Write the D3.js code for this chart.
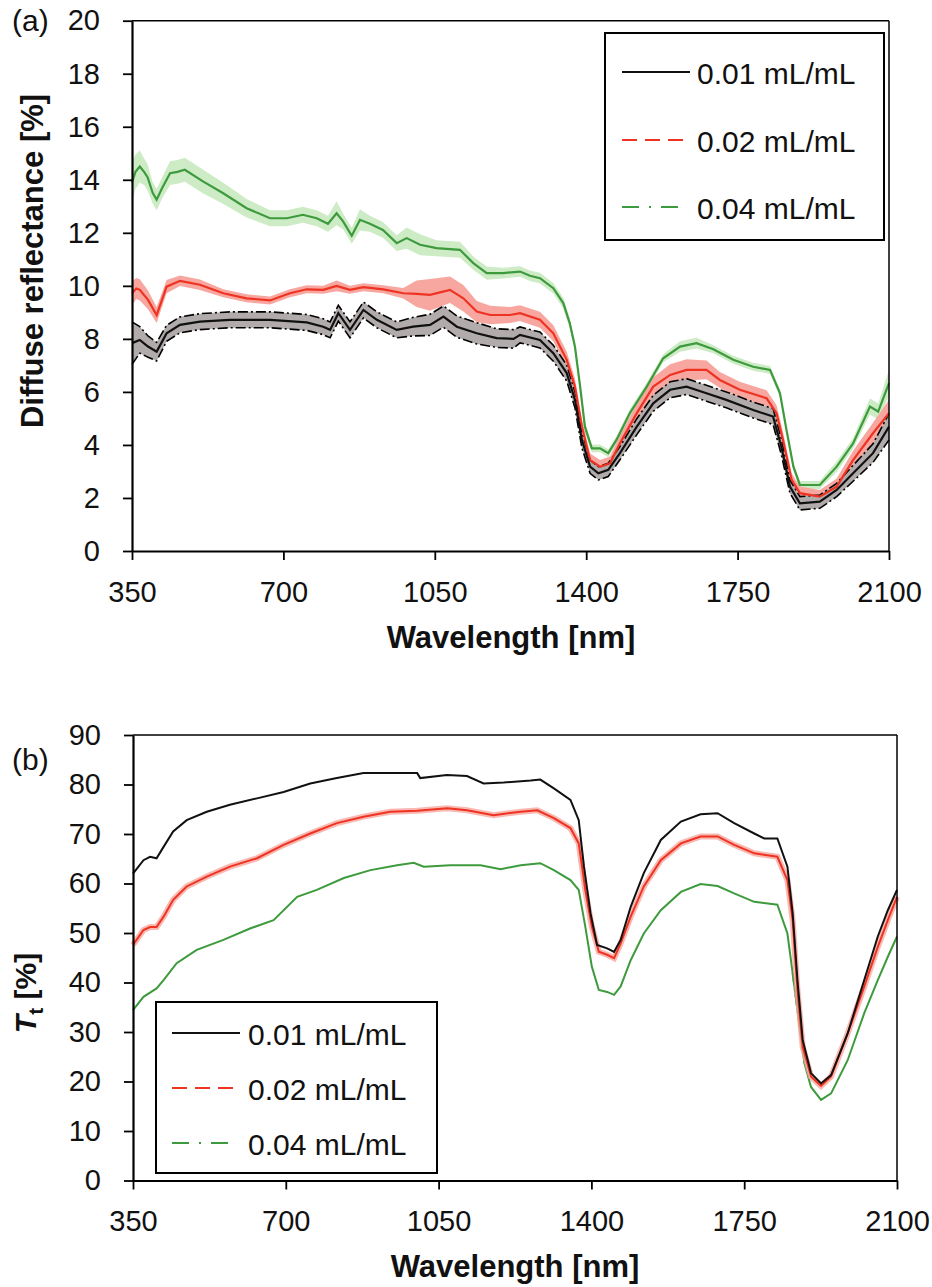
<!DOCTYPE html>
<html>
<head>
<meta charset="utf-8">
<script src="https://cdn.jsdelivr.net/npm/d3@7"></script>
<style>
  html, body { margin: 0; padding: 0; background: #fff; }
  svg { display: block; font-family: "Liberation Sans", Arial, sans-serif; }
</style>
</head>
<body>
<svg id="chart" width="932" height="1287"></svg>
<script>
// ---------------- DATA ----------------
const xTicks = [350, 700, 1050, 1400, 1750, 2100];
const yTicksA = [0, 2, 4, 6, 8, 10, 12, 14, 16, 18, 20];
const yTicksB = [0, 10, 20, 30, 40, 50, 60, 70, 80, 90];
const seriesNames = ["0.01 mL/mL", "0.02 mL/mL", "0.04 mL/mL"];

// Panel (a): diffuse reflectance [%], mean and standard deviation
const aGreenWl  = [350,358,368,378,386,398,407,420,438,455,472,514,560,615,669,708,745,777,803,823,838,858,877,900,930,962,985,1016,1054,1108,1139,1170,1208,1247,1270,1293,1324,1347,1362,1374,1386,1397,1413,1432,1451,1470,1501,1540,1578,1617,1655,1694,1740,1786,1825,1848,1863,1879,1894,1940,1979,2017,2056,2075,2100];
const aGreenVal = [13.9,14.3,14.5,14.3,14.1,13.5,13.25,13.7,14.25,14.3,14.38,13.94,13.5,12.93,12.55,12.55,12.68,12.55,12.34,12.74,12.43,11.89,12.49,12.34,12.11,11.61,11.8,11.55,11.42,11.36,10.86,10.48,10.48,10.54,10.38,10.29,9.91,9.35,8.59,7.71,6.2,4.69,3.87,3.87,3.69,4.19,5.2,6.2,7.27,7.71,7.84,7.61,7.21,6.95,6.83,5.95,4.57,3.18,2.49,2.49,3.18,4.06,5.45,5.26,6.33];
const aGreenSd  = [0.8,0.65,0.6,0.5,0.5,0.4,0.4,0.4,0.45,0.45,0.45,0.45,0.4,0.35,0.3,0.3,0.3,0.3,0.3,0.45,0.3,0.3,0.4,0.3,0.3,0.3,0.4,0.4,0.3,0.3,0.25,0.25,0.2,0.2,0.2,0.2,0.2,0.2,0.2,0.2,0.2,0.2,0.15,0.15,0.15,0.15,0.15,0.15,0.15,0.2,0.2,0.15,0.15,0.15,0.15,0.15,0.15,0.15,0.15,0.15,0.2,0.2,0.3,0.3,0.5];

const aRedWl  = [350,360,368,387,407,430,461,507,561,615,669,715,754,792,823,854,885,931,977,1008,1039,1085,1116,1147,1178,1224,1247,1293,1324,1355,1374,1390,1409,1432,1455,1478,1517,1555,1594,1632,1678,1709,1755,1817,1840,1855,1875,1894,1940,1979,2017,2063,2100];
const aRedVal = [9.72,9.9,9.85,9.47,8.9,9.97,10.19,10.04,9.72,9.53,9.45,9.72,9.87,9.85,10.0,9.85,9.95,9.87,9.72,9.7,9.66,9.85,9.53,9.03,8.9,8.9,8.97,8.72,8.21,7.21,6.2,4.69,3.43,3.18,3.31,4.06,5.2,6.2,6.64,6.83,6.83,6.45,6.08,5.76,5.2,4.19,2.68,2.18,2.05,2.43,3.43,4.44,5.2];
const aRedSd  = [0.45,0.4,0.4,0.35,0.3,0.25,0.2,0.2,0.15,0.15,0.15,0.15,0.15,0.15,0.2,0.15,0.15,0.15,0.2,0.5,0.6,0.5,0.5,0.4,0.35,0.3,0.3,0.3,0.3,0.3,0.3,0.3,0.25,0.25,0.25,0.3,0.35,0.35,0.4,0.4,0.35,0.3,0.3,0.3,0.3,0.3,0.25,0.25,0.25,0.3,0.35,0.4,0.5];

const aBlackWl  = [350,368,387,407,430,461,507,576,669,754,792,808,827,854,885,916,962,1000,1039,1070,1101,1147,1193,1232,1247,1293,1324,1355,1374,1390,1409,1428,1451,1478,1517,1555,1594,1632,1678,1724,1786,1832,1851,1871,1894,1940,1979,2017,2063,2100];
const aBlackVal = [7.84,7.96,7.71,7.52,8.21,8.53,8.65,8.72,8.72,8.62,8.46,8.34,8.97,8.34,9.09,8.72,8.34,8.46,8.53,8.84,8.46,8.21,8.03,8.0,8.15,7.96,7.46,6.71,5.7,4.19,3.18,2.93,3.06,3.69,4.69,5.57,6.08,6.2,5.95,5.7,5.32,5.07,3.94,2.43,1.8,1.86,2.3,2.93,3.69,4.69];
const aBlackSd  = [0.8,0.5,0.4,0.35,0.3,0.3,0.3,0.3,0.3,0.3,0.3,0.3,0.3,0.3,0.3,0.3,0.3,0.35,0.4,0.4,0.4,0.4,0.35,0.35,0.3,0.3,0.3,0.3,0.3,0.3,0.25,0.25,0.25,0.25,0.3,0.3,0.3,0.3,0.3,0.3,0.3,0.3,0.3,0.25,0.25,0.25,0.25,0.3,0.35,0.5];

// Panel (b): total transmittance Tt [%]
const bBlackWl  = [350,374,389,404,420,442,473,519,572,634,695,756,817,878,939,1001,1008,1069,1115,1153,1199,1261,1283,1314,1352,1371,1383,1398,1413,1436,1452,1467,1490,1520,1559,1605,1650,1689,1727,1773,1796,1826,1849,1861,1872,1884,1903,1926,1949,1987,2025,2056,2079,2100];
const bBlackVal = [62.0,64.7,65.4,65.1,67.4,70.5,72.8,74.5,75.9,77.2,78.5,80.2,81.3,82.3,82.3,82.3,81.3,81.9,81.7,80.2,80.4,80.8,81.0,79.2,76.9,72.8,63.4,54.0,47.6,46.9,46.2,48.6,55.3,62.1,68.8,72.5,74.0,74.2,72.2,70.1,69.1,69.1,63.4,54.0,40.5,28.4,21.7,19.6,21.3,29.7,40.5,49.3,54.6,58.7];

const bRedWl  = [350,374,389,404,420,442,473,519,572,634,695,756,817,878,939,1001,1070,1115,1176,1238,1276,1314,1352,1371,1386,1401,1417,1436,1452,1467,1490,1520,1559,1605,1650,1689,1727,1773,1826,1849,1861,1872,1884,1903,1926,1949,1987,2025,2056,2079,2100];
const bRedVal = [47.6,50.6,51.2,51.2,53.3,56.7,59.4,61.4,63.4,65.1,67.8,70.1,72.2,73.5,74.5,74.7,75.2,74.8,73.8,74.5,74.8,73.2,71.2,68.1,58.7,51.3,46.2,45.6,44.9,47.9,53.3,59.4,64.7,68.1,69.5,69.5,67.8,66.1,65.4,60.7,52.6,38.5,27.0,21.0,19.1,21.0,29.7,39.2,47.2,52.6,57.3];

const bGreenWl  = [350,374,404,420,450,496,557,618,672,726,771,833,894,955,993,1016,1077,1146,1192,1238,1283,1314,1352,1371,1386,1401,1417,1436,1452,1467,1490,1520,1559,1605,1650,1689,1727,1773,1826,1849,1861,1888,1903,1926,1949,1987,2025,2056,2079,2100];
const bGreenVal = [34.4,37.1,38.8,40.5,43.9,46.6,48.6,50.9,52.6,57.3,58.7,61.1,62.7,63.7,64.2,63.4,63.7,63.7,62.9,63.7,64.1,62.7,60.7,58.7,51.3,43.2,38.5,38.1,37.5,39.2,44.5,49.9,54.6,58.3,59.9,59.5,58.0,56.3,55.7,49.9,41.9,23.7,18.9,16.3,17.6,24.3,33.8,40.5,45.2,49.3];

// ---------------- STYLE ----------------
const C = {
  black: "#111111", blackBand: "#b2abab",
  red: "#ee3322", redBand: "#f7a79f",
  green: "#3d9a3d", greenBand: "#cdecc5"
};

const svg = d3.select("#chart");
svg.append("rect").attr("width", 932).attr("height", 1287).attr("fill", "#fff");

function zip(wl, val, sd) {
  return wl.map((w, i) => ({ w: w, v: val[i], s: sd ? sd[i] : 0 }));
}

function drawAxes(g, x, y, yTicks) {
  const x0 = x.range()[0], x1 = x.range()[1];
  const yb = y.range()[0], yt = y.range()[1];
  g.append("line").attr("x1", x0).attr("x2", x1).attr("y1", yt).attr("y2", yt)
    .attr("stroke", "#000").attr("stroke-width", 1.5);
  g.append("line").attr("x1", x1).attr("x2", x1).attr("y1", yt).attr("y2", yb)
    .attr("stroke", "#000").attr("stroke-width", 1.5);

  const ax = g.append("g").attr("transform", `translate(0,${yb})`)
    .call(d3.axisBottom(x).tickValues(xTicks).tickSize(9).tickSizeOuter(0).tickPadding(21).tickFormat(d3.format("d")));
  const ay = g.append("g").attr("transform", `translate(${x0},0)`)
    .call(d3.axisLeft(y).tickValues(yTicks).tickSize(9).tickSizeOuter(0).tickPadding(23).tickFormat(d3.format("d")));
  [ax, ay].forEach(a => {
    a.select(".domain").attr("stroke", "#000").attr("stroke-width", 2.2);
    a.selectAll(".tick line").attr("stroke", "#000").attr("stroke-width", 1.8);
    a.selectAll(".tick text").attr("fill", "#111").style("font-size", "29px")
      .style("font-family", '"Liberation Sans", Arial, sans-serif');
  });
}

function legend(g, x0, y0, w, h, rows, lineX0, lineX1, textX) {
  g.append("rect").attr("x", x0).attr("y", y0).attr("width", w).attr("height", h)
    .attr("fill", "#fff").attr("stroke", "#000").attr("stroke-width", 2);
  const styles = [
    { c: C.black, dash: null, x1: lineX1 },
    { c: C.red, dash: "15,8", x1: lineX1 },
    { c: C.green, dash: "17,10,2,10", x1: lineX1 - 8 }
  ];
  rows.forEach((yy, i) => {
    g.append("line").attr("x1", lineX0).attr("x2", styles[i].x1)
      .attr("y1", yy - 12).attr("y2", yy - 12)
      .attr("stroke", styles[i].c).attr("stroke-width", 2)
      .attr("stroke-dasharray", styles[i].dash);
    g.append("text").attr("x", textX).attr("y", yy).text(seriesNames[i])
      .style("font-size", "30px").attr("fill", "#111");
  });
}

// ---------------- PANEL (a) ----------------
(function () {
  const g = svg.append("g");
  const x = d3.scaleLinear().domain([350, 2100]).range([132, 889]);
  const y = d3.scaleLinear().domain([0, 20]).range([551, 20.7]);
  const area = d3.area().x(d => x(d.w)).y0(d => y(d.v - d.s)).y1(d => y(d.v + d.s));
  const line = d3.line().x(d => x(d.w)).y(d => y(d.v));
  const lineHi = d3.line().x(d => x(d.w)).y(d => y(d.v + d.s));
  const lineLo = d3.line().x(d => x(d.w)).y(d => y(d.v - d.s));

  const green = zip(aGreenWl, aGreenVal, aGreenSd);
  const red = zip(aRedWl, aRedVal, aRedSd);
  const black = zip(aBlackWl, aBlackVal, aBlackSd);

  g.append("path").datum(green).attr("d", area).attr("fill", C.greenBand);
  g.append("path").datum(red).attr("d", area).attr("fill", C.redBand);
  g.append("path").datum(black).attr("d", area).attr("fill", C.blackBand);
  [lineHi, lineLo].forEach(l => g.append("path").datum(black).attr("d", l)
    .attr("fill", "none").attr("stroke", "#000").attr("stroke-width", 1.6)
    .attr("stroke-dasharray", "10,3,2,3"));
  g.append("path").datum(green).attr("d", line).attr("fill", "none").attr("stroke", C.green).attr("stroke-width", 2.2);
  g.append("path").datum(red).attr("d", line).attr("fill", "none").attr("stroke", C.red).attr("stroke-width", 2.2);
  g.append("path").datum(black).attr("d", line).attr("fill", "none").attr("stroke", C.black).attr("stroke-width", 2.2);

  drawAxes(g, x, y, yTicksA);

  legend(g, 605, 33, 279, 207, [84, 152, 219], 622, 690, 697);

  g.append("text").attr("x", 12).attr("y", 31).text("(a)").style("font-size", "30px").attr("fill", "#111");
  g.append("text").attr("x", 511).attr("y", 648).attr("text-anchor", "middle")
    .text("Wavelength [nm]").style("font-size", "31px").style("font-weight", "bold").attr("fill", "#111");
  g.append("text").attr("transform", "translate(43,261) rotate(-90)").attr("text-anchor", "middle")
    .text("Diffuse reflectance [%]").style("font-size", "31px").style("font-weight", "bold").attr("fill", "#111");
})();

// ---------------- PANEL (b) ----------------
(function () {
  const g = svg.append("g");
  const x = d3.scaleLinear().domain([350, 2100]).range([133, 897]);
  const y = d3.scaleLinear().domain([0, 90]).range([1180.5, 735]);
  const plain = d3.line().x(d => x(d.w)).y(d => y(d.v));

  const black = zip(bBlackWl, bBlackVal);
  const red = zip(bRedWl, bRedVal);
  const green = zip(bGreenWl, bGreenVal);

  // green: solid except a dash-dot stretch in the steep water band
  const gapLo = 1861, gapHi = 1888;
  const lineDef = d3.line().defined(d => d.w <= gapLo || d.w >= gapHi).x(d => x(d.w)).y(d => y(d.v));
  g.append("path").datum(green).attr("d", lineDef).attr("fill", "none").attr("stroke", C.green).attr("stroke-width", 2);
  g.append("path").datum(green.filter(d => d.w >= gapLo && d.w <= gapHi)).attr("d", plain)
    .attr("fill", "none").attr("stroke", C.green).attr("stroke-width", 2).attr("stroke-dasharray", "12,4,2,4");

  g.append("path").datum(red).attr("d", plain).attr("fill", "none").attr("stroke", C.redBand)
    .attr("stroke-width", 6).attr("opacity", 0.8);
  g.append("path").datum(red).attr("d", plain).attr("fill", "none").attr("stroke", C.red).attr("stroke-width", 2);
  g.append("path").datum(black).attr("d", plain).attr("fill", "none").attr("stroke", C.black).attr("stroke-width", 2);

  drawAxes(g, x, y, yTicksB);

  legend(g, 156, 1002, 281, 171, [1045, 1100, 1155], 172, 240, 248);

  g.append("text").attr("x", 12).attr("y", 770).text("(b)").style("font-size", "30px").attr("fill", "#111");
  g.append("text").attr("x", 515).attr("y", 1277).attr("text-anchor", "middle")
    .text("Wavelength [nm]").style("font-size", "31px").style("font-weight", "bold").attr("fill", "#111");
  const t = g.append("text").attr("transform", "translate(36,993) rotate(-90)").attr("text-anchor", "middle")
    .style("font-size", "30px").style("font-weight", "bold").attr("fill", "#111");
  t.append("tspan").text("T").style("font-style", "italic");
  t.append("tspan").text("t").attr("dy", 7).style("font-size", "21px");
  t.append("tspan").text(" [%]").attr("dy", -7);
})();
</script>
</body>
</html>
